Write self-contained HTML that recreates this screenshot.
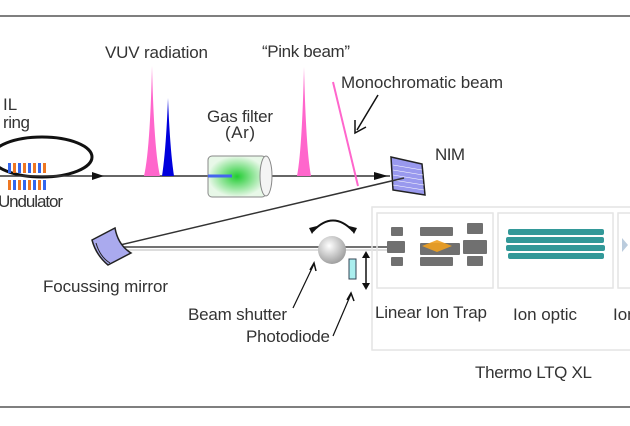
<!DOCTYPE html>
<html><head><meta charset="utf-8"><style>
html,body{margin:0;padding:0;background:#fff;width:630px;height:426px;overflow:hidden}
text{font-family:"Liberation Sans",sans-serif;fill:#333;font-size:17px}
</style></head><body>
<svg width="630" height="426" viewBox="0 0 630 426" xmlns="http://www.w3.org/2000/svg">
<defs>
<radialGradient id="g" cx="0.5" cy="0.5" r="0.5"><stop offset="0" stop-color="#22cc33"/><stop offset="1" stop-color="#e8f8e8"/></radialGradient>
<radialGradient id="s" cx="0.4" cy="0.35" r="0.7"><stop offset="0" stop-color="#fff"/><stop offset="1" stop-color="#999"/></radialGradient>
</defs>
<line x1="0" y1="16" x2="630" y2="16" stroke="#555" stroke-width="1.5"/>
<line x1="0" y1="407" x2="630" y2="407" stroke="#555" stroke-width="1.5"/>
<!-- ring -->
<ellipse cx="42" cy="157" rx="50" ry="20" fill="none" stroke="#111" stroke-width="3"/>
<g>
<rect x="8" y="163" width="3" height="10" fill="#3366ee"/><rect x="13" y="163" width="3" height="10" fill="#ee7722"/>
<rect x="18" y="163" width="3" height="10" fill="#3366ee"/><rect x="23" y="163" width="3" height="10" fill="#ee7722"/>
<rect x="28" y="163" width="3" height="10" fill="#3366ee"/><rect x="33" y="163" width="3" height="10" fill="#ee7722"/>
<rect x="38" y="163" width="3" height="10" fill="#3366ee"/><rect x="43" y="163" width="3" height="10" fill="#ee7722"/>
<rect x="8" y="180" width="3" height="10" fill="#ee7722"/><rect x="13" y="180" width="3" height="10" fill="#3366ee"/>
<rect x="18" y="180" width="3" height="10" fill="#ee7722"/><rect x="23" y="180" width="3" height="10" fill="#3366ee"/>
<rect x="28" y="180" width="3" height="10" fill="#ee7722"/><rect x="33" y="180" width="3" height="10" fill="#3366ee"/>
<rect x="38" y="180" width="3" height="10" fill="#ee7722"/><rect x="43" y="180" width="3" height="10" fill="#3366ee"/>
</g>
<text x="3" y="110">IL</text>
<text x="3" y="128" textLength="27">ring</text>
<text x="-2" y="207" textLength="65">Undulator</text>
<!-- beam -->
<line x1="0" y1="176" x2="390" y2="176" stroke="#333" stroke-width="1.5"/>
<polygon points="92,172 104,176 92,180" fill="#111"/>
<polygon points="374,172 388,176 374,180" fill="#111"/>
<text x="105" y="58" textLength="103">VUV radiation</text>
<path d="M144,176 Q150,150 152,66 Q154,150 160,176Z" fill="#ff66cc"/>
<path d="M162,176 Q166,150 168,98 Q170,150 174,176Z" fill="#0000dd"/>
<text x="207" y="122" textLength="66">Gas filter</text>
<text x="225" y="138" textLength="30">(Ar)</text>
<rect x="208" y="156" width="58" height="41" rx="4" fill="url(#g)" stroke="#888"/>
<ellipse cx="266" cy="176" rx="6" ry="20" fill="#f4f4f4" stroke="#888"/>
<line x1="208" y1="176" x2="232" y2="176" stroke="#4466ee" stroke-width="3"/>
<text x="262" y="57" textLength="88">“Pink beam”</text>
<path d="M297,176 Q302,150 304,67 Q306,150 311,176Z" fill="#ff66cc"/>
<text x="341" y="88" textLength="162">Monochromatic beam</text>
<line x1="333" y1="82" x2="358" y2="186" stroke="#ff66cc" stroke-width="2"/>
<line x1="378" y1="95" x2="357" y2="130" stroke="#111" stroke-width="1.5"/>
<polyline points="355,120 355,133 366,127" fill="none" stroke="#111" stroke-width="1.5"/>
<text x="435" y="160" textLength="30">NIM</text>
<polygon points="391,157 422,164 425,195 393,190" fill="#9999ee" stroke="#222" stroke-width="1.5"/>
<g stroke="#fff" stroke-width="0.6"><line x1="393" y1="165" x2="422" y2="170"/><line x1="393" y1="170" x2="423" y2="175"/><line x1="393" y1="175" x2="423" y2="180"/><line x1="393" y1="180" x2="424" y2="185"/><line x1="393" y1="185" x2="424" y2="190"/></g>
<!-- mirror -->
<line x1="404" y1="178" x2="120" y2="245" stroke="#333" stroke-width="1.5"/>
<line x1="122" y1="247" x2="400" y2="247" stroke="#444" stroke-width="1.5"/>
<line x1="122" y1="250" x2="400" y2="250" stroke="#bbb" stroke-width="1"/>
<path d="M92,240 L115,228 Q118,245 131,253 L108,265 Q96,255 92,240Z" fill="#aaaaee" stroke="#222" stroke-width="1.5"/>
<path d="M96,243 Q100,257 110,263" fill="none" stroke="#222"/>
<text x="43" y="292" textLength="125">Focussing mirror</text>
<!-- shutter -->
<circle cx="332" cy="250" r="14" fill="url(#s)"/>
<path d="M313,231 Q333,210 353,231" fill="none" stroke="#111" stroke-width="2"/>
<polygon points="309,228 317,226 312,234" fill="#111"/><polygon points="357,228 349,226 354,234" fill="#111"/>
<rect x="349" y="259" width="7" height="20" fill="#aee" stroke="#345"/>
<line x1="366" y1="254" x2="366" y2="287" stroke="#111" stroke-width="1.5"/>
<polygon points="362,258 366,251 370,258" fill="#111"/><polygon points="362,283 366,290 370,283" fill="#111"/>
<text x="188" y="320" textLength="99">Beam shutter</text>
<text x="246" y="342" textLength="84">Photodiode</text>
<line x1="293" y1="308" x2="314" y2="264" stroke="#111" stroke-width="1.2"/>
<polyline points="310,270 314,263 316,271" fill="none" stroke="#111" stroke-width="1.5"/>
<line x1="333" y1="336" x2="351" y2="294" stroke="#111" stroke-width="1.2"/>
<polyline points="347,300 351,293 354,301" fill="none" stroke="#111" stroke-width="1.5"/>
<!-- LTQ -->
<rect x="372" y="207" width="270" height="143" fill="none" stroke="#e4e4e4" stroke-width="1.5"/>
<rect x="377" y="213" width="116" height="75" fill="none" stroke="#e4e4e4" stroke-width="1.5"/>
<rect x="498" y="213" width="115" height="75" fill="none" stroke="#e4e4e4" stroke-width="1.5"/>
<rect x="618" y="213" width="30" height="75" fill="none" stroke="#e4e4e4" stroke-width="1.5"/>
<g fill="#707070">
<rect x="391" y="227" width="12" height="9" rx="1"/><rect x="420" y="227" width="33" height="9" rx="1"/><rect x="467" y="223" width="16" height="11" rx="1"/>
<rect x="387" y="241" width="18" height="12" rx="1"/><rect x="420" y="243" width="40" height="12" rx="1"/><rect x="463" y="240" width="24" height="14" rx="1"/>
<rect x="391" y="257" width="12" height="9" rx="1"/><rect x="420" y="257" width="33" height="9" rx="1"/><rect x="467" y="256" width="16" height="10" rx="1"/>
</g>
<polygon points="422,246 437,240 452,246 437,252" fill="#f0a020" opacity="0.9"/>
<g fill="#339999">
<rect x="508" y="229" width="96" height="6" rx="2"/><rect x="506" y="237" width="98" height="6" rx="2"/><rect x="506" y="245" width="99" height="6" rx="2"/><rect x="508" y="253" width="96" height="6" rx="2"/>
</g>
<polygon points="622,238 628,245 622,252" fill="#bcd"/>
<text x="375" y="318" textLength="112">Linear Ion Trap</text>
<text x="513" y="320" textLength="64">Ion optic</text>
<text x="613" y="320">Ion</text>
<text x="475" y="378" textLength="117">Thermo LTQ XL</text>
</svg>
</body></html>
